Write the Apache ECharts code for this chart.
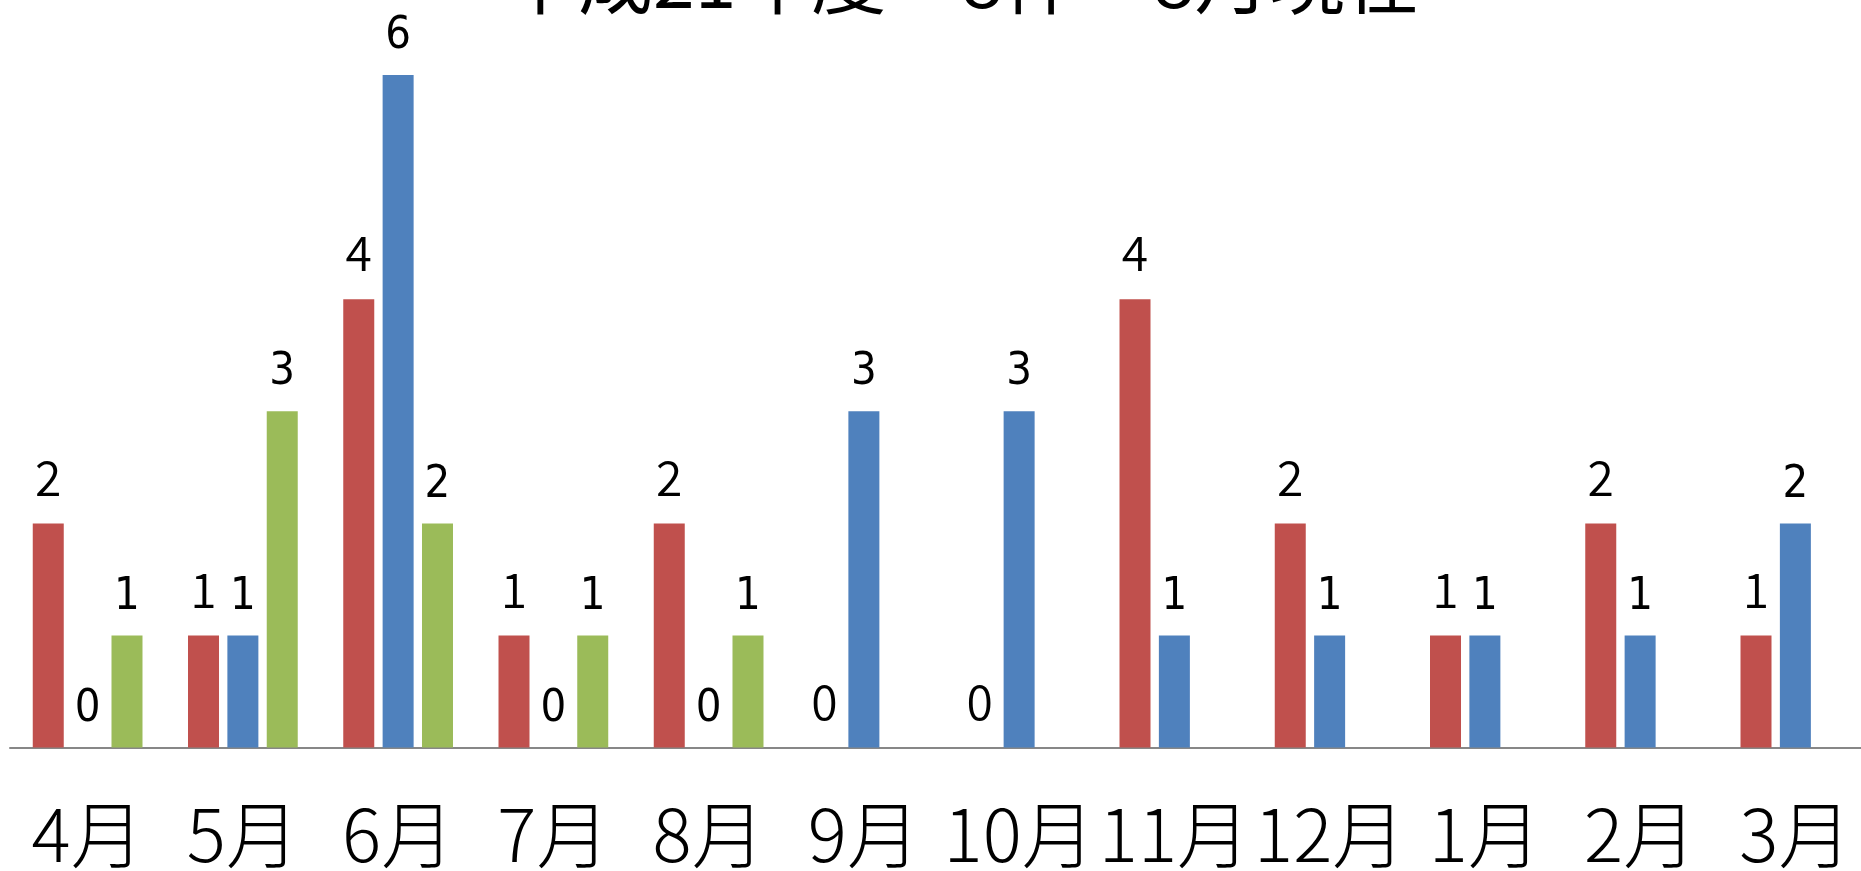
<!DOCTYPE html>
<html>
<head>
<meta charset="utf-8">
<script src="https://cdn.jsdelivr.net/npm/echarts@6/dist/echarts.min.js"></script>
<style>
html,body{margin:0;padding:0;background:#fff;overflow:hidden;}
#main{width:1873px;height:871px;}
</style>
</head>
<body>
<div id="main"></div>
<script>
const titleText = '平成21年度　8件　8月現在';
const categories = ['4月','5月','6月','7月','8月','9月','10月','11月','12月','1月','2月','3月'];
const redValues   = [2, 1, 4, 1, 2, 0, 0, 4, 2, 1, 2, 1];
const blueValues  = [0, 1, 6, 0, 0, 3, 3, 1, 1, 1, 1, 2];
const greenValues = [1, 3, 2, 1, 1, null, null, null, null, null, null, null];

const chart = echarts.init(document.getElementById('main'));
const thinLabel = {
  show: true, position: 'top', distance: 22,
  fontFamily: 'Noto Sans CJK JP', fontSize: 48, fontWeight: 350, color: '#000'
};
const boldLabel = {
  show: true, position: 'top', distance: 16,
  fontFamily: 'DejaVu Sans Condensed, DejaVu Sans', fontSize: 45, color: '#000'
};
chart.setOption({
  animation: false,
  backgroundColor: '#fff',
  title: {
    text: titleText,
    left: 498, top: -63,
    textStyle: { fontFamily: 'Noto Sans CJK JP', fontSize: 75, fontWeight: 'normal', color: '#000' }
  },
  grid: { left: 10, right: 0, top: 75, bottom: 123.4, containLabel: false },
  xAxis: {
    type: 'category', data: categories,
    axisLine: { lineStyle: { color: '#878787', width: 2 } },
    axisTick: { show: false },
    axisLabel: { interval: 0, margin: 50, fontFamily: 'Noto Sans CJK JP', fontWeight: 300, fontSize: 73, color: '#000' }
  },
  yAxis: { type: 'value', min: 0, max: 6, show: false, splitLine: { show: false } },
  series: [
    { type: 'bar', data: redValues, barWidth: 31, barGap: '27%',
      itemStyle: { color: '#C0504D' }, label: thinLabel },
    { type: 'bar', data: blueValues, barWidth: 31, barGap: '27%',
      itemStyle: { color: '#4F81BD' }, label: boldLabel },
    { type: 'bar', data: greenValues, barWidth: 31, barGap: '27%',
      itemStyle: { color: '#9BBB59' }, label: boldLabel }
  ]
});
</script>
</body>
</html>
